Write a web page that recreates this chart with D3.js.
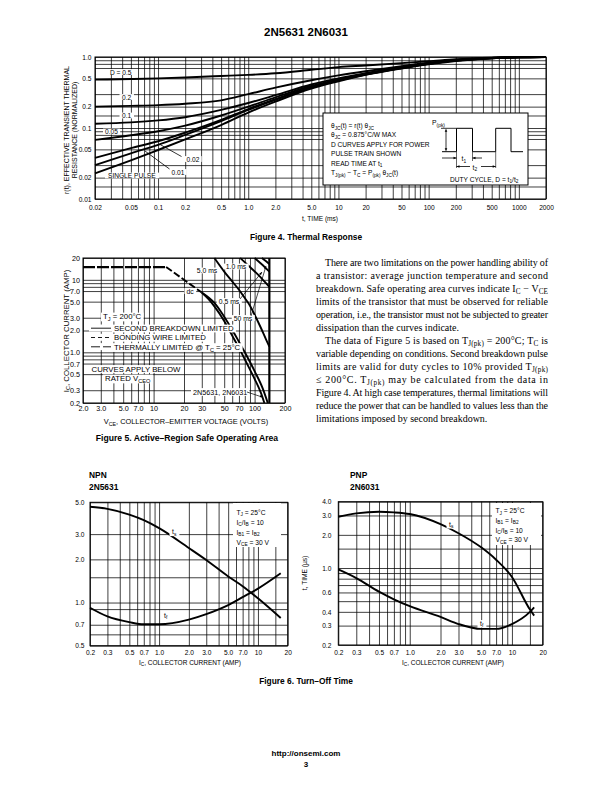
<!DOCTYPE html>
<html><head><meta charset="utf-8">
<script src="https://cdn.jsdelivr.net/npm/d3@7"></script>
<style>
body{margin:0;background:#fff}
svg{display:block}
</style></head><body>
<svg id="page" width="612" height="792"></svg>
<script>
// ---------------- DATA ----------------
// Figure 4 – thermal response
const thermalTime = [0.02,0.05,0.1,0.2,0.5,1,2,5,10,20,50,100,200,500,1000,2000];
const rD05   = [0.48,0.49,0.50,0.515,0.54,0.56,0.59,0.66,0.72,0.76,0.82,0.87,0.93,0.98,1.0,1.0];
const rD02   = [0.20,0.205,0.21,0.22,0.245,0.30,0.37,0.47,0.55,0.63,0.74,0.83,0.91,0.97,1.0,1.0];
const rD01   = [0.115,0.12,0.128,0.142,0.18,0.225,0.29,0.41,0.50,0.59,0.72,0.82,0.90,0.97,0.99,1.0];
const rD005  = [0.068,0.079,0.09,0.108,0.15,0.20,0.27,0.39,0.48,0.58,0.71,0.81,0.90,0.97,0.99,1.0];
const rD002  = [0.038,0.052,0.065,0.086,0.13,0.185,0.255,0.375,0.47,0.57,0.70,0.80,0.89,0.96,0.99,1.0];
const rD001  = [0.030,0.044,0.058,0.080,0.125,0.18,0.25,0.37,0.465,0.565,0.70,0.80,0.89,0.96,0.99,1.0];
const rSingle= [0.023,0.035,0.049,0.069,0.11,0.165,0.235,0.36,0.455,0.56,0.69,0.79,0.88,0.96,0.99,1.0];
const f4XTicks  = [0.02,0.05,0.1,0.2,0.5,1,2,5,10,20,50,100,200,500,1000,2000];
const f4XLabels = ["0.02","0.05","0.1","0.2","0.5","1.0","2.0","5.0","10","20","50","100","200","500","1000","2000"];
const f4YTicks  = [1,0.5,0.2,0.1,0.05,0.02,0.01];
const f4YLabels = ["1.0","0.5","0.2","0.1","0.05","0.02","0.01"];
const f4YGrid   = [0.01,0.015,0.02,0.03,0.05,0.07,0.08,0.09,0.1,0.15,0.2,0.3,0.5,0.7,0.8,0.9,1];

// Figure 5 – safe operating area  [VCE (V), IC (A)]
const bondingWire = [[2,15],[13.3,15]];
const thermalDc   = [[13.3,15],[16,12.5],[20,10],[25,8],[30,6.67]];
const secondDcA   = [[30,6.67],[35,5.4],[40,4.3],[50,2.7],[60,1.7],[70,1.15],[80,0.8],[100,0.43],[115,0.28],[125,0.2]];
const secondDcB   = [[30,6.67],[35,5.7],[40,4.8],[50,3.1],[60,2.05],[70,1.4],[80,1.0],[100,0.55],[120,0.32],[135,0.2]];
const pulse5ms    = [[40,20],[50,13],[60,9.5],[70,7.3],[80,5.6],[90,4.4],[100,3.3],[115,2.2],[130,1.5],[140,1.2]];
const pulse1ms    = [[72,20],[90,15],[110,11.5],[125,9.5],[140,8]];
const pulse05ms   = [[100,20],[120,16],[140,13]];
const pulse50     = [[118,20],[130,18],[140,16.5]];
const vceoLimit   = [[140,20],[140,0.2]];
const f5XTicks  = [2,3,5,7,10,20,30,50,70,100,200];
const f5XLabels = ["2.0","3.0","5.0","7.0","10","20","30","50","70","100","200"];
const f5YTicks  = [20,10,7,5,3,2,1,0.7,0.5,0.3,0.2];
const f5YLabels = ["20","10","7.0","5.0","3.0","2.0","1.0","0.7","0.5","0.3","0.2"];
const f5YGrid   = [0.2,0.3,0.5,0.7,0.8,0.9,1,2,3,5,7,8,9,10,20];

// Figure 6 – turn-off time
const npnIc = [0.2,0.3,0.5,0.7,1,2,3,5,7,10,17];
const npnTs = [4.65,4.5,4.1,3.75,3.3,2.4,1.98,1.52,1.3,1.07,0.78];
const npnTf = [0.92,0.8,0.73,0.705,0.705,0.76,0.83,0.96,1.09,1.25,1.6];
const pnpIc = [0.2,0.3,0.5,0.7,1,2,3,5,7,10,15,16.5];
const pnpTs = [2.92,3.13,3.24,3.2,3.09,2.5,2.07,1.54,1.19,0.83,0.42,0.37];
const pnpTf = [0.97,0.81,0.61,0.52,0.45,0.36,0.31,0.28,0.28,0.31,0.40,0.44];
const f6XTicks  = [0.2,0.3,0.5,0.7,1,2,3,5,7,10,20];
const f6XLabels = ["0.2","0.3","0.5","0.7","1.0","2.0","3.0","5.0","7.0","10","20"];
const npnYTicks = [5,3,2,1,0.7,0.5];
const npnYLabels= ["5.0","3.0","2.0","1.0","0.7","0.5"];
const npnYGrid  = [0.5,0.6,0.7,0.9,1,1.5,2,3,5];
const pnpYTicks = [4,3,2,1,0.6,0.4,0.3,0.2];
const pnpYLabels= ["4.0","3.0","2.0","1.0","0.6","0.4","0.3","0.2"];
const pnpYGrid  = [0.2,0.3,0.4,0.5,0.6,0.7,0.8,0.9,1,1.5,2,3,4];

const para1 = [
 "There are two limitations on the power handling ability of",
 "a transistor: average junction temperature and second",
 "breakdown. Safe operating area curves indicate I_{C} − V_{CE}",
 "limits of the transistor that must be observed for reliable",
 "operation, i.e., the transistor must not be subjected to greater",
 "dissipation than the curves indicate."];
const para2 = [
 "The data of Figure 5 is based on T_{J(pk)} = 200°C; T_{C} is",
 "variable depending on conditions. Second breakdown pulse",
 "limits are valid for duty cycles to 10% provided T_{J(pk)}",
 "≤ 200°C. T_{J(pk)} may be calculated from the data in",
 "Figure 4. At high case temperatures, thermal limitations will",
 "reduce the power that can be handled to values less than the",
 "limitations imposed by second breakdown."];

// ---------------- HELPERS ----------------
const FN = '"Liberation Sans",Arial,Helvetica,sans-serif';
const FB = '"Liberation Sans",Arial,sans-serif';
const FS = '"Liberation Serif","Times New Roman",serif';
const svg = d3.select("#page");

function rich(t, str, fs){
  const parts = str.split(/(_\{[^}]*\})/).filter(s=>s);
  let shift = 0;
  parts.forEach(p=>{
    if(p.startsWith("_{")){
      const d = fs*0.25;
      t.append("tspan").attr("dy", d-shift).attr("font-size", fs*0.72).text(p.slice(2,-1));
      shift = d;
    } else {
      t.append("tspan").attr("dy", -shift).text(p);
      shift = 0;
    }
  });
}
function lab(g, x, y, str, o={}){
  const fs = o.fs || 6.6;
  const t = g.append("text").attr("x",x).attr("y",y)
    .attr("font-size",fs).attr("font-family",o.ff||FN)
    .attr("text-anchor",o.anchor||"start")
    .attr("font-weight",o.fw||null);
  if(o.rot) t.attr("transform",`rotate(${o.rot},${x},${y})`);
  rich(t,str,fs);
  if(o.bg!==undefined){
    const b = t.node().getBBox();
    g.insert("rect",()=>t.node()).attr("x",b.x-o.bg).attr("y",b.y+0.6)
      .attr("width",b.width+2*o.bg).attr("height",b.height-1.2).attr("fill","#fff");
  }
  return t;
}
function decadeGrid(lo, hi){
  const out=[];
  for(let e=-3;e<=4;e++) for(let m=1;m<10;m++){
    const v=+(m*Math.pow(10,e)).toPrecision(6);
    if(v>=lo*0.9999 && v<=hi*1.0001) out.push(v);
  }
  return out;
}
function chart(o){
  const g = svg.append("g");
  const x = d3.scaleLog().domain(o.xd).range(o.xr);
  const y = d3.scaleLog().domain(o.yd).range(o.yr);
  const h = o.yr[0]-o.yr[1], w = o.xr[1]-o.xr[0];
  g.append("g").attr("transform",`translate(0,${o.yr[0]})`)
    .call(d3.axisBottom(x).tickValues(o.xGrid).tickSize(-h).tickFormat(""))
    .call(s=>{s.select(".domain").remove(); s.selectAll("line").attr("stroke","#000").attr("stroke-width",0.75);});
  g.append("g").attr("transform",`translate(${o.xr[0]},0)`)
    .call(d3.axisLeft(y).tickValues(o.yGrid).tickSize(-w).tickFormat(""))
    .call(s=>{s.select(".domain").remove(); s.selectAll("line").attr("stroke","#000").attr("stroke-width",0.75);});
  g.append("rect").attr("x",o.xr[0]).attr("y",o.yr[1]).attr("width",w).attr("height",h)
    .attr("fill","none").attr("stroke","#000").attr("stroke-width",1);
  g.append("g").attr("transform",`translate(0,${o.yr[0]})`)
    .call(d3.axisBottom(x).tickValues(o.xTicks).tickSize(0).tickPadding(o.xPad).tickFormat((d,i)=>o.xLabels[i]))
    .call(s=>{s.select(".domain").remove(); s.selectAll("text").attr("font-family",FN).attr("font-size",o.fs).attr("fill","#000");});
  g.append("g").attr("transform",`translate(${o.xr[0]},0)`)
    .call(d3.axisLeft(y).tickValues(o.yTicks).tickSize(0).tickPadding(o.yPad).tickFormat((d,i)=>o.yLabels[i]))
    .call(s=>{s.select(".domain").remove(); s.selectAll("text").attr("font-family",FN).attr("font-size",o.fs).attr("fill","#000").attr("dy","0.34em");});
  return {g,x,y};
}
function curve(c, pts, o={}){
  const line = d3.line().x(d=>c.x(d[0])).y(d=>c.y(d[1])).curve(o.curve||d3.curveMonotoneX);
  return c.g.append("path").attr("d",line(pts)).attr("fill","none").attr("stroke","#000")
    .attr("stroke-width",o.sw||1.9).attr("stroke-dasharray",o.dash||null).attr("stroke-linecap","butt");
}
function arrowHead(g, x1,y1,x2,y2, size=3.5){
  const a=Math.atan2(y2-y1,x2-x1);
  const p=[[x2,y2],[x2-size*Math.cos(a)+size*0.4*Math.sin(a), y2-size*Math.sin(a)-size*0.4*Math.cos(a)],
           [x2-size*Math.cos(a)-size*0.4*Math.sin(a), y2-size*Math.sin(a)+size*0.4*Math.cos(a)]];
  g.append("path").attr("d","M"+p.map(q=>q.join(",")).join("L")+"Z").attr("fill","#000");
}
function seg(g,x1,y1,x2,y2,sw=0.8){
  g.append("line").attr("x1",x1).attr("y1",y1).attr("x2",x2).attr("y2",y2).attr("stroke","#000").attr("stroke-width",sw);
}

// ---------------- PAGE TEXT ----------------
lab(svg,306,35.5,"2N5631 2N6031",{fs:11.5,ff:FB,fw:"bold",anchor:"middle"});
lab(svg,306,240,"Figure 4. Thermal Response",{fs:8.4,ff:FB,fw:"bold",anchor:"middle"});
lab(svg,187,441,"Figure 5. Active–Region Safe Operating Area",{fs:8.6,ff:FB,fw:"bold",anchor:"middle"});
lab(svg,306,684,"Figure 6. Turn–Off Time",{fs:8.4,ff:FB,fw:"bold",anchor:"middle"});
lab(svg,306,756,"http://onsemi.com",{fs:8,ff:FB,fw:"bold",anchor:"middle"});
lab(svg,306,767,"3",{fs:8,ff:FB,fw:"bold",anchor:"middle"});

// paragraph
(function(){
  const x0=316, x1=548, fs=10;
  const lines=[];
  para1.forEach((s,i)=>lines.push({s, ind:i===0, last:i===para1.length-1}));
  para2.forEach((s,i)=>lines.push({s, ind:i===0, last:i===para2.length-1}));
  lines.forEach((L,i)=>{
    const xs = x0 + (L.ind?9:0);
    const t = svg.append("text").attr("x",xs).attr("y",265.5+i*13).attr("font-family",FS).attr("font-size",fs);
    rich(t,L.s,fs);
    if(!L.last) t.attr("textLength",x1-xs).attr("lengthAdjust","spacing");
  });
})();

// ---------------- FIGURE 4 ----------------
const c4 = chart({xd:[0.02,2000], xr:[95,546], yd:[0.01,1], yr:[199,57],
  xGrid:decadeGrid(0.02,2000), yGrid:f4YGrid, xTicks:f4XTicks, xLabels:f4XLabels,
  yTicks:f4YTicks, yLabels:f4YLabels, xPad:6, yPad:3.5, fs:6.6});
[rD05,rD02,rD01,rD005,rD002,rD001,rSingle].forEach(arr=>{
  curve(c4, thermalTime.map((t,i)=>[t,arr[i]]), {sw:1.9});
});
lab(c4.g,320,221,"t, TIME (ms)",{anchor:"middle",fs:6.6});
lab(c4.g,68.5,130,"r(t), EFFECTIVE TRANSIENT THERMAL",{anchor:"middle",rot:-90,fs:7});
lab(c4.g,77,130,"RESISTANCE (NORMALIZED)",{anchor:"middle",rot:-90,fs:7});
lab(c4.g,110,74.5,"D = 0.5",{bg:2.5});
lab(c4.g,122,99.5,"0.2",{bg:2.5});
lab(c4.g,122,118,"0.1",{bg:2.5});
lab(c4.g,105,134,"0.05",{bg:2});
lab(c4.g,108,178,"SINGLE PULSE",{bg:3});
lab(c4.g,171.5,174.5,"0.01",{bg:2});
lab(c4.g,186.5,161.5,"0.02",{bg:2});
seg(c4.g,181.5,156.5,160,144.5,0.8);
seg(c4.g,169.5,169,145,151,0.8);
// info box
c4.g.append("rect").attr("x",323).attr("y",113).attr("width",205).attr("height",72)
  .attr("fill","#fff").attr("stroke","#000").attr("stroke-width",1);
const info = ["θ_{JC}(t) = r(t) θ_{JC}","θ_{JC} = 0.875°C/W MAX","D CURVES APPLY FOR POWER",
  "PULSE TRAIN SHOWN","READ TIME AT t_{1}","T_{J(pk)} − T_{C} = P_{(pk)} θ_{JC}(t)"];
info.forEach((s,i)=>lab(c4.g,331,128+i*9.4,s,{fs:6.6}));
c4.g.append("path").attr("d","M442,151.7H456.5V128.3H472.5V151.7H495.7V128.3H511V151.7H523")
  .attr("fill","none").attr("stroke","#000").attr("stroke-width",1);
seg(c4.g,441,128.3,456.5,128.3,0.8);
seg(c4.g,446,131,446,149,0.8);
arrowHead(c4.g,446,140,446,128.6,3.2); arrowHead(c4.g,446,140,446,151.4,3.2);
lab(c4.g,432,125,"P_{(pk)}",{fs:6.8});
seg(c4.g,456.5,151.7,456.5,168,0.6); seg(c4.g,472.5,151.7,472.5,161,0.6); seg(c4.g,495.7,151.7,495.7,168,0.6);
seg(c4.g,442,158,456.5,158,0.8); arrowHead(c4.g,442,158,456.5,158,3);
seg(c4.g,472.5,158,482,158,0.8); arrowHead(c4.g,482,158,472.5,158,3);
lab(c4.g,461.5,161,"t_{1}",{fs:6.8});
seg(c4.g,456.5,166.5,470,166.5,0.8); seg(c4.g,481,166.5,495.7,166.5,0.8);
arrowHead(c4.g,466,166.5,456.5,166.5,3); arrowHead(c4.g,486,166.5,495.7,166.5,3);
lab(c4.g,472.5,169.5,"t_{2}",{fs:6.8});
lab(c4.g,450,181.5,"DUTY CYCLE, D = t_{1}/t_{2}",{fs:6.6});

// ---------------- FIGURE 5 ----------------
const c5 = chart({xd:[2,200], xr:[83,285], yd:[0.2,20], yr:[403,258],
  xGrid:decadeGrid(2,200), yGrid:f5YGrid, xTicks:f5XTicks, xLabels:f5XLabels,
  yTicks:f5YTicks, yLabels:f5YLabels, xPad:2.5, yPad:3, fs:7.2});
curve(c5,bondingWire,{sw:2.2,dash:"12,2",curve:d3.curveLinear});
curve(c5,thermalDc,{sw:1.9,dash:"7,2.5"});
curve(c5,secondDcA,{sw:1.9});
curve(c5,secondDcB,{sw:1.9});
curve(c5,pulse5ms,{sw:1.9});
curve(c5,pulse1ms,{sw:1.9});
curve(c5,pulse05ms,{sw:1.9,curve:d3.curveLinear});
curve(c5,pulse50,{sw:1.9,curve:d3.curveLinear});
curve(c5,vceoLimit,{sw:2.2,curve:d3.curveLinear});
lab(c5.g,207,273,"5.0 ms",{anchor:"middle",bg:2,fs:6.8});
lab(c5.g,236,269,"1.0 ms",{anchor:"middle",bg:2,fs:6.8});
lab(c5.g,190,293.5,"dc",{anchor:"middle",bg:2,fs:6.8});
lab(c5.g,229,303.5,"0.5 ms",{anchor:"middle",bg:2,fs:6.8});
lab(c5.g,243,320.5,"50 ms",{anchor:"middle",bg:2,fs:6.8});
seg(c5.g,240,299,262,272,0.7); arrowHead(c5.g,240,299,262,272,3);
seg(c5.g,251,316,266,266,0.7); arrowHead(c5.g,251,316,266,266,3);
lab(c5.g,103,319,"T_{J} = 200°C",{bg:2,fs:7.8});
[["SECOND BREAKDOWN LIMITED",null],["BONDING WIRE LIMITED","4,3"],["THERMALLY LIMITED @ T_{C} = 25°C","9,3"]].forEach((d,i)=>{
  const yy=331+i*9.3;
  lab(c5.g,114,yy,d[0],{bg:2,fs:7.8});
  c5.g.append("rect").attr("x",89).attr("y",yy-6.5).attr("width",24).attr("height",7).attr("fill","#fff");
  c5.g.append("line").attr("x1",91).attr("x2",111).attr("y1",yy-2.8).attr("y2",yy-2.8)
    .attr("stroke","#000").attr("stroke-width",0.9).attr("stroke-dasharray",d[1]);
});
lab(c5.g,91.5,371.5,"CURVES APPLY BELOW",{bg:2,fs:7.8});
lab(c5.g,105,381,"RATED V_{CEO}",{bg:2,fs:7.8});
lab(c5.g,193,394.5,"2N5631, 2N6031",{bg:2,fs:7.2});
seg(c5.g,247,392,262,397,0.7); arrowHead(c5.g,247,392,263,397,3);
lab(c5.g,186,424,"V_{CE}, COLLECTOR–EMITTER VOLTAGE (VOLTS)",{anchor:"middle",fs:7.4});
lab(c5.g,68.5,331,"I_{C}, COLLECTOR CURRENT (AMP)",{anchor:"middle",rot:-90,fs:7.8});

// ---------------- FIGURE 6 NPN ----------------
lab(svg,89,477.5,"NPN",{fs:8.4,ff:FB,fw:"bold"});
lab(svg,89,489.5,"2N5631",{fs:8.4,ff:FB,fw:"bold"});
const c6a = chart({xd:[0.2,20], xr:[90,287.7], yd:[0.5,5], yr:[645.7,502.3],
  xGrid:decadeGrid(0.2,20).concat([15]), yGrid:npnYGrid, xTicks:f6XTicks, xLabels:f6XLabels,
  yTicks:npnYTicks, yLabels:npnYLabels, xPad:4.5, yPad:5.5, fs:6.6});
curve(c6a, npnIc.map((v,i)=>[v,npnTs[i]]));
curve(c6a, npnIc.map((v,i)=>[v,npnTf[i]]));
c6a.g.append("rect").attr("x",233).attr("y",503).attr("width",48).attr("height",44).attr("fill","#fff");
["T_{J} = 25°C","I_{C}/I_{B} = 10","I_{B1} = I_{B2}","V_{CE} = 30 V"].forEach((s,i)=>lab(c6a.g,236.5,514.5+i*10,s,{fs:6.7}));
lab(c6a.g,172,534,"t_{s}",{bg:2.5,fs:6.8});
lab(c6a.g,164,617.5,"t_{f}",{bg:2.5,fs:6.8});
lab(c6a.g,190,664.5,"I_{C}, COLLECTOR CURRENT (AMP)",{anchor:"middle",fs:6.5});

// ---------------- FIGURE 6 PNP ----------------
lab(svg,350,477.5,"PNP",{fs:8.4,ff:FB,fw:"bold"});
lab(svg,350,489.5,"2N6031",{fs:8.4,ff:FB,fw:"bold"});
const c6b = chart({xd:[0.2,20], xr:[338.3,542.7], yd:[0.2,4], yr:[645,501.7],
  xGrid:decadeGrid(0.2,20).concat([15]), yGrid:pnpYGrid, xTicks:f6XTicks, xLabels:f6XLabels,
  yTicks:pnpYTicks, yLabels:pnpYLabels, xPad:5, yPad:7, fs:6.6});
curve(c6b, pnpIc.map((v,i)=>[v,pnpTs[i]]));
curve(c6b, pnpIc.map((v,i)=>[v,pnpTf[i]]));
c6b.g.append("rect").attr("x",492).attr("y",503).attr("width",49).attr("height",42).attr("fill","#fff");
["T_{J} = 25°C","I_{B1} = I_{B2}","I_{C}/I_{B} = 10","V_{CE} = 30 V"].forEach((s,i)=>lab(c6b.g,495.5,513+i*9.8,s,{fs:6.7}));
lab(c6b.g,449,526.5,"t_{s}",{bg:2.5,fs:6.8});
lab(c6b.g,480,625.5,"t_{f}",{bg:2.5,fs:6.8});
lab(c6b.g,453,664.5,"I_{C}, COLLECTOR CURRENT (AMP)",{anchor:"middle",fs:6.5});
lab(c6b.g,307,573,"t, TIME (µs)",{anchor:"middle",rot:-90,fs:6.6});
</script></body></html>
